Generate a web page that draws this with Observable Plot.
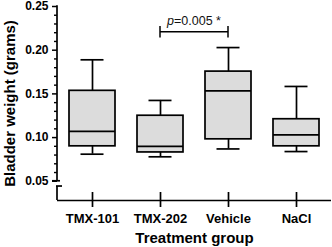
<!DOCTYPE html>
<html><head><meta charset="utf-8">
<script src="https://cdn.jsdelivr.net/npm/d3@7"></script>
<script src="https://cdn.jsdelivr.net/npm/@observablehq/plot@0.6"></script>
<style>html,body{margin:0;padding:0;background:#fff} svg{display:block}</style>
</head><body><div id="chart"></div>
<script>
const categories = ["TMX-101", "TMX-202", "Vehicle", "NaCl"];
const whiskerLow  = [0.081, 0.078, 0.087, 0.084];
const quartile1   = [0.090, 0.083, 0.098, 0.090];
const medians     = [0.107, 0.090, 0.1535, 0.103];
const quartile3   = [0.1535, 0.125, 0.1755, 0.121];
const whiskerHigh = [0.189, 0.1425, 0.203, 0.1585];

const majorTicks = [0.05, 0.10, 0.15, 0.20, 0.25];
const minorTicks = [0.06, 0.07, 0.08, 0.09, 0.11, 0.12, 0.13, 0.14, 0.16, 0.17, 0.18, 0.19, 0.21, 0.22, 0.23, 0.24];
const yDomain = [0.028, 0.25];
const axisBreak = {top: 0.05, bottom: 0.044};
const comparison = {from: "TMX-202", to: "Vehicle", y: 0.2205, half: 0.0065, pLabel: "p", rest: "=0.005 *"};
const yTitle = "Bladder weight (grams)";
const xTitle = "Treatment group";

const rows = categories.map((g, i) => ({
  group: g, lo: whiskerLow[i], q1: quartile1[i], med: medians[i], q3: quartile3[i], hi: whiskerHigh[i]
}));

const font = "'Liberation Sans', Arial, Helvetica, sans-serif";
const SW = 1.7;

function yAxisLine(index, {y}, values, {marginLeft, height, marginBottom}) {
  const g = d3.create("svg:g").attr("stroke", "#000").attr("stroke-width", SW).attr("fill", "none");
  const x0 = marginLeft;
  const yt = y(yDomain[1]), yb1 = y(axisBreak.top), yb2 = y(axisBreak.bottom), ybot = height - marginBottom;
  g.append("line").attr("x1", x0).attr("x2", x0).attr("y1", yt - 0.8).attr("y2", yb1);
  g.append("line").attr("x1", x0 - 5).attr("x2", x0 + 3).attr("y1", yb1).attr("y2", yb1);
  g.append("line").attr("x1", x0 - 1).attr("x2", x0 + 5).attr("y1", yb2).attr("y2", yb2);
  g.append("line").attr("x1", x0).attr("x2", x0).attr("y1", yb2).attr("y2", ybot);
  return g.node();
}

function bracket(index, {x, y}) {
  const off = x.bandwidth ? x.bandwidth() / 2 : 0;
  const x1 = x(comparison.from) + off, x2 = x(comparison.to) + off;
  const yy = y(comparison.y), ya = y(comparison.y + comparison.half), yb = y(comparison.y - comparison.half);
  const g = d3.create("svg:g");
  const s = g.append("g").attr("stroke", "#000").attr("stroke-width", 1.5);
  s.append("line").attr("x1", x1).attr("x2", x2).attr("y1", yy).attr("y2", yy);
  s.append("line").attr("x1", x1).attr("x2", x1).attr("y1", ya).attr("y2", yb);
  s.append("line").attr("x1", x2).attr("x2", x2).attr("y1", ya).attr("y2", yb);
  const t = g.append("text").attr("x", (x1 + x2) / 2).attr("y", yy - 7)
    .attr("text-anchor", "middle").attr("font-size", 12.5).attr("font-family", font).attr("fill", "#111");
  t.append("tspan").attr("font-style", "italic").text(comparison.pLabel);
  t.append("tspan").text(comparison.rest);
  return g.node();
}

const plot = Plot.plot({
  width: 332, height: 247,
  marginLeft: 57, marginRight: 1, marginTop: 6, marginBottom: 47,
  style: {fontFamily: font, background: "#fff", overflow: "visible", color: "#000"},
  x: {type: "band", domain: categories, paddingInner: 0.326, paddingOuter: 0.163, label: null},
  y: {domain: yDomain, label: null},
  marks: [
    Plot.ruleX(rows, {x: "group", y1: "lo", y2: "q1", stroke: "#000", strokeWidth: SW}),
    Plot.ruleX(rows, {x: "group", y1: "q3", y2: "hi", stroke: "#000", strokeWidth: SW}),
    Plot.tickY(rows, {x: "group", y: "lo", insetLeft: 11.5, insetRight: 11.5, stroke: "#000", strokeWidth: SW}),
    Plot.tickY(rows, {x: "group", y: "hi", insetLeft: 11.5, insetRight: 11.5, stroke: "#000", strokeWidth: SW}),
    Plot.barY(rows, {x: "group", y1: "q1", y2: "q3", fill: "#dcdcdc", stroke: "#000", strokeWidth: SW}),
    Plot.tickY(rows, {x: "group", y: "med", stroke: "#000", strokeWidth: SW}),
    Plot.axisY({ticks: minorTicks, tickSize: 3, tickFormat: () => "", strokeWidth: 1.4, label: null}),
    Plot.axisY({ticks: majorTicks, tickSize: 5, tickPadding: 4, tickFormat: d3.format(".2f"),
      fontSize: 12, fontWeight: "bold", strokeWidth: 1.5, label: null}),
    Plot.axisX({tickSize: 15, dy: -8, tickPadding: 6, fontSize: 13, fontWeight: "bold", strokeWidth: SW, label: null}),
    Plot.ruleY([yDomain[0]], {stroke: "#000", strokeWidth: SW}),
    yAxisLine,
    bracket,
    Plot.text([yTitle], {text: d => d, frameAnchor: "left", rotate: -90, dx: -47, textAnchor: "middle", lineAnchor: "middle",
      fontSize: 15, fontWeight: "bold", fill: "#000"}),
    Plot.text([xTitle], {text: d => d, frameAnchor: "bottom", dy: 42, textAnchor: "middle", lineAnchor: "bottom",
      fontSize: 15, fontWeight: "bold", fill: "#000"})
  ]
});
document.getElementById("chart").appendChild(plot);
</script>
</body></html>
